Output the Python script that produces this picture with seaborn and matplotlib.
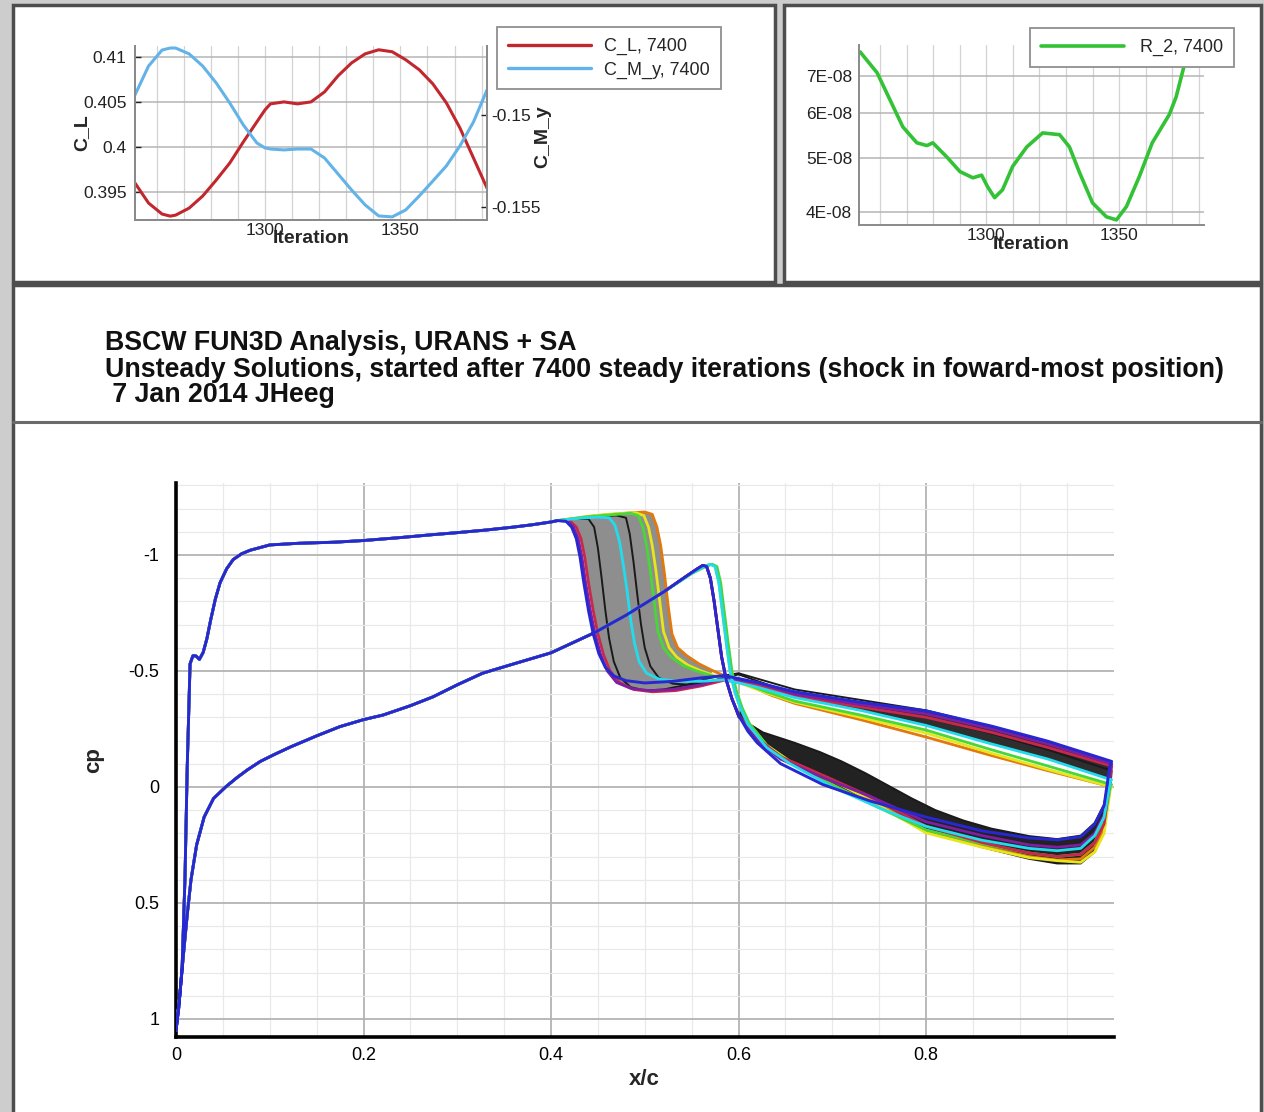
import numpy as np
import matplotlib
matplotlib.use("Agg")
import matplotlib.pyplot as plt
import seaborn as sns
from matplotlib.patches import Rectangle
from matplotlib.lines import Line2D
from matplotlib.ticker import FixedLocator, NullLocator, NullFormatter

# ------------------------------------------------------------------ data
# top-left panel: force coefficients vs iteration
iter_cl = [1252, 1257, 1262, 1265, 1267, 1272, 1277, 1282, 1287, 1292, 1297, 1300, 1302, 1307,
           1312, 1317, 1322, 1327, 1332, 1337, 1342, 1347, 1352, 1357, 1362, 1367, 1372, 1377, 1382]
cl_vals = [0.39600, 0.39378, 0.39256, 0.39233, 0.39244, 0.39322, 0.39456, 0.39633, 0.39822, 0.40056,
           0.40278, 0.40411, 0.40478, 0.40500, 0.40478, 0.40500, 0.40611, 0.40789, 0.40933, 0.41033,
           0.41078, 0.41056, 0.40967, 0.40856, 0.40700, 0.40489, 0.40211, 0.39878, 0.39544]
cmy_vals = [-0.14891, -0.14734, -0.14647, -0.14636, -0.14636, -0.14668, -0.14734, -0.14826, -0.14935,
            -0.15054, -0.15152, -0.15179, -0.15185, -0.15190, -0.15185, -0.15185, -0.15234, -0.15321,
            -0.15408, -0.15489, -0.15549, -0.15554, -0.15516, -0.15440, -0.15359, -0.15277, -0.15168,
            -0.15038, -0.14864]
cl_ticks = [0.395, 0.4, 0.405, 0.41]
cl_ticklabels = ["0.395", "0.4", "0.405", "0.41"]
cmy_ticks = [-0.155, -0.15]
cmy_ticklabels = ["-0.155", "-0.15"]
iter_ticks = [1300, 1350]
iter_ticklabels = ["1300", "1350"]

# top-right panel: residual
iter_r2 = [1252.4, 1258.8, 1263.7, 1268.5, 1273.8, 1277.6, 1279.8, 1285.1, 1290.0, 1294.9, 1298.2,
           1300.5, 1303.1, 1306.1, 1309.9, 1315.2, 1321.2, 1327.6, 1331.3, 1335.1, 1340.0, 1345.2,
           1349.0, 1352.8, 1357.6, 1362.5, 1368.9, 1371.5, 1374.6, 1376.5]
r2_vals = [7.72e-8, 7.09e-8, 6.34e-8, 5.68e-8, 5.32e-8, 5.26e-8, 5.32e-8, 5.02e-8, 4.73e-8, 4.61e-8,
           4.66e-8, 4.44e-8, 4.25e-8, 4.39e-8, 4.83e-8, 5.23e-8, 5.54e-8, 5.50e-8, 5.23e-8, 4.71e-8,
           4.16e-8, 3.93e-8, 3.88e-8, 4.10e-8, 4.63e-8, 5.32e-8, 5.97e-8, 6.42e-8, 7.32e-8, 7.80e-8]
r2_ticks = [4e-8, 5e-8, 6e-8, 7e-8]
r2_ticklabels = ["4E-08", "5E-08", "6E-08", "7E-08"]

# main panel: surface pressure coefficient, common leading-edge part
xu_common = [0.0, 0.003, 0.0065, 0.0096, 0.012, 0.015, 0.018, 0.021, 0.025, 0.029, 0.033, 0.037,
             0.042, 0.047, 0.054, 0.061, 0.07, 0.079, 0.1, 0.13, 0.17, 0.2, 0.24, 0.27, 0.3, 0.33,
             0.36, 0.38, 0.4, 0.407]
cpu_common = [1.05, 0.95, 0.78, 0.39, -0.09, -0.53, -0.565, -0.565, -0.55, -0.58, -0.64, -0.72,
              -0.81, -0.88, -0.94, -0.98, -1.005, -1.02, -1.043, -1.05, -1.055, -1.062, -1.075,
              -1.086, -1.096, -1.107, -1.12, -1.13, -1.142, -1.148]
xl_common = [0.0, 0.004, 0.008, 0.012, 0.016, 0.022, 0.03, 0.04, 0.053, 0.065, 0.076, 0.09, 0.105,
             0.122, 0.15, 0.175, 0.2, 0.221, 0.25, 0.274, 0.3, 0.327, 0.36, 0.4]
cpl_common = [1.05, 0.9, 0.72, 0.55, 0.4, 0.25, 0.13, 0.05, 0.0, -0.04, -0.073, -0.11, -0.14,
              -0.172, -0.22, -0.26, -0.29, -0.31, -0.35, -0.388, -0.44, -0.49, -0.53, -0.578]

# aft parts, one per unsteady snapshot (upper surface / lower surface)
lo_x_a = [0.446, 0.48, 0.52, 0.545, 0.556, 0.562, 0.566, 0.57, 0.574, 0.578, 0.582, 0.587, 0.593,
          0.6, 0.61, 0.62, 0.645, 0.69, 0.74, 0.8, 0.86, 0.91, 0.94, 0.965, 0.98, 0.99, 0.996]
lo_x_b = [0.446, 0.48, 0.52, 0.55, 0.563, 0.57, 0.575, 0.579, 0.583, 0.587, 0.591, 0.596, 0.602,
          0.61, 0.62, 0.63, 0.655, 0.7, 0.75, 0.8, 0.86, 0.91, 0.94, 0.965, 0.98, 0.99, 0.997]
lo_x_c = [0.446, 0.48, 0.52, 0.55, 0.565, 0.572, 0.577, 0.581, 0.585, 0.589, 0.593, 0.598, 0.604,
          0.612, 0.622, 0.632, 0.657, 0.7, 0.75, 0.8, 0.86, 0.91, 0.94, 0.965, 0.98, 0.99, 0.997]

blue_up_x = [0.416, 0.422, 0.427, 0.431, 0.435, 0.44, 0.445, 0.451, 0.458, 0.467, 0.48, 0.5, 0.53,
             0.56, 0.585, 0.62, 0.66, 0.73, 0.8, 0.87, 0.93, 0.998]
blue_up_cp = [-1.145, -1.12, -1.07, -0.99, -0.88, -0.76, -0.66, -0.575, -0.515, -0.478, -0.458,
              -0.448, -0.455, -0.47, -0.48, -0.45, -0.41, -0.365, -0.328, -0.262, -0.197, -0.11]
blue_lo_cp = [-0.664, -0.74, -0.84, -0.91, -0.94, -0.955, -0.95, -0.9, -0.8, -0.68, -0.56, -0.46,
              -0.38, -0.31, -0.24, -0.19, -0.1, -0.01, 0.06, 0.13, 0.19, 0.22, 0.228, 0.215, 0.16,
              0.08, -0.09]

purple_up_x = [0.418, 0.424, 0.429, 0.433, 0.437, 0.442, 0.447, 0.453, 0.46, 0.47, 0.485, 0.505,
               0.53, 0.56, 0.585, 0.62, 0.66, 0.73, 0.8, 0.87, 0.93, 0.998]
purple_up_cp = [-1.145, -1.12, -1.07, -0.99, -0.88, -0.76, -0.66, -0.57, -0.5, -0.45, -0.425,
                -0.415, -0.42, -0.44, -0.47, -0.45, -0.4, -0.355, -0.315, -0.25, -0.185, -0.1]
purple_lo_cp = [-0.664, -0.74, -0.84, -0.91, -0.94, -0.955, -0.95, -0.9, -0.8, -0.68, -0.56, -0.46,
                -0.38, -0.31, -0.25, -0.2, -0.12, -0.04, 0.04, 0.15, 0.21, 0.25, 0.26, 0.25, 0.2,
                0.12, -0.05]

red_up_x = [0.42, 0.427, 0.432, 0.436, 0.44, 0.445, 0.45, 0.456, 0.463, 0.473, 0.488, 0.508, 0.533,
            0.56, 0.585, 0.62, 0.66, 0.73, 0.8, 0.87, 0.93, 0.998]
red_up_cp = [-1.148, -1.12, -1.07, -0.99, -0.88, -0.76, -0.66, -0.57, -0.5, -0.45, -0.42, -0.41,
             -0.415, -0.435, -0.46, -0.44, -0.39, -0.345, -0.3, -0.235, -0.17, -0.09]
red_lo_cp = [-0.664, -0.74, -0.84, -0.91, -0.94, -0.955, -0.95, -0.9, -0.8, -0.68, -0.56, -0.46,
             -0.38, -0.31, -0.26, -0.21, -0.13, -0.05, 0.04, 0.17, 0.24, 0.285, 0.3, 0.29, 0.24,
             0.16, -0.02]

cyan_up_x = [0.43, 0.45, 0.462, 0.468, 0.473, 0.477, 0.481, 0.485, 0.489, 0.494, 0.502, 0.515,
             0.535, 0.56, 0.585, 0.62, 0.66, 0.73, 0.8, 0.87, 0.93, 0.998]
cyan_up_cp = [-1.158, -1.163, -1.16, -1.13, -1.06, -0.96, -0.85, -0.72, -0.62, -0.54, -0.49,
              -0.465, -0.455, -0.455, -0.462, -0.43, -0.385, -0.33, -0.265, -0.185, -0.12, -0.03]
cyan_lo_cp = [-0.664, -0.74, -0.84, -0.92, -0.95, -0.96, -0.95, -0.88, -0.75, -0.62, -0.5, -0.41,
              -0.34, -0.27, -0.22, -0.17, -0.1, 0.0, 0.09, 0.17, 0.23, 0.265, 0.275, 0.265, 0.21,
              0.13, -0.03]

green_up_x = [0.44, 0.47, 0.485, 0.493, 0.498, 0.502, 0.506, 0.51, 0.514, 0.52, 0.528, 0.54, 0.555,
              0.575, 0.6, 0.63, 0.66, 0.73, 0.8, 0.87, 0.93, 0.998]
green_up_cp = [-1.165, -1.175, -1.18, -1.17, -1.12, -1.04, -0.93, -0.8, -0.67, -0.6, -0.56, -0.525,
               -0.5, -0.475, -0.455, -0.41, -0.37, -0.31, -0.245, -0.16, -0.09, -0.01]
green_lo_cp = [-0.664, -0.74, -0.84, -0.92, -0.95, -0.96, -0.95, -0.88, -0.75, -0.62, -0.5, -0.41,
               -0.34, -0.27, -0.22, -0.17, -0.1, -0.01, 0.09, 0.185, 0.245, 0.285, 0.3, 0.29, 0.24,
               0.15, -0.01]

yellow_up_x = [0.44, 0.47, 0.49, 0.499, 0.504, 0.508, 0.512, 0.516, 0.52, 0.526, 0.534, 0.546, 0.56,
               0.578, 0.6, 0.63, 0.66, 0.73, 0.8, 0.87, 0.93, 0.998]
yellow_up_cp = [-1.167, -1.178, -1.182, -1.17, -1.12, -1.04, -0.93, -0.8, -0.67, -0.6, -0.56,
                -0.525, -0.5, -0.475, -0.45, -0.405, -0.365, -0.3, -0.232, -0.145, -0.075, 0.0]
yellow_lo_cp = [-0.664, -0.74, -0.84, -0.92, -0.95, -0.96, -0.95, -0.88, -0.75, -0.62, -0.5, -0.41,
                -0.34, -0.28, -0.23, -0.18, -0.11, -0.03, 0.08, 0.198, 0.26, 0.305, 0.318, 0.325,
                0.28, 0.2, 0.0]

orange_up_x = [0.45, 0.48, 0.5, 0.508, 0.513, 0.517, 0.521, 0.525, 0.529, 0.535, 0.545, 0.558,
               0.573, 0.59, 0.61, 0.635, 0.66, 0.73, 0.8, 0.87, 0.93, 0.998]
orange_up_cp = [-1.17, -1.18, -1.185, -1.175, -1.12, -1.04, -0.92, -0.78, -0.66, -0.6, -0.565,
                -0.53, -0.5, -0.47, -0.44, -0.395, -0.36, -0.29, -0.215, -0.135, -0.07, 0.0]
orange_lo_cp = [-0.664, -0.74, -0.84, -0.91, -0.94, -0.955, -0.95, -0.9, -0.8, -0.68, -0.56, -0.46,
                -0.38, -0.31, -0.25, -0.2, -0.12, -0.045, 0.05, 0.19, 0.255, 0.3, 0.315, 0.31,
                0.26, 0.18, 0.0]

black1_up_x = [0.425, 0.44, 0.446, 0.45, 0.454, 0.458, 0.462, 0.467, 0.474, 0.485, 0.5, 0.52, 0.545,
               0.57, 0.6, 0.66, 0.73, 0.8, 0.87, 0.93, 0.998]
black1_up_cp = [-1.155, -1.155, -1.12, -1.03, -0.9, -0.76, -0.64, -0.54, -0.47, -0.43, -0.415,
                -0.42, -0.44, -0.47, -0.49, -0.42, -0.375, -0.33, -0.26, -0.19, -0.1]
black1_lo_x = [0.446, 0.48, 0.52, 0.545, 0.556, 0.562, 0.566, 0.57, 0.574, 0.578, 0.582, 0.587,
               0.593, 0.6, 0.626, 0.66, 0.687, 0.71, 0.735, 0.76, 0.785, 0.81, 0.84, 0.87, 0.91,
               0.94, 0.965, 0.98, 0.99, 0.997]
black1_lo_cp = [-0.664, -0.74, -0.84, -0.91, -0.94, -0.955, -0.95, -0.9, -0.8, -0.68, -0.56, -0.46,
                -0.38, -0.3, -0.235, -0.19, -0.15, -0.11, -0.06, -0.005, 0.05, 0.1, 0.145, 0.18,
                0.212, 0.225, 0.21, 0.155, 0.075, -0.09]
black2_up_x = [0.44, 0.47, 0.48, 0.484, 0.488, 0.492, 0.496, 0.5, 0.506, 0.515, 0.53, 0.55, 0.575,
               0.6, 0.66, 0.73, 0.8, 0.87, 0.93, 0.998]
black2_up_cp = [-1.165, -1.17, -1.16, -1.09, -0.97, -0.83, -0.7, -0.6, -0.52, -0.47, -0.445, -0.44,
                -0.46, -0.485, -0.4, -0.35, -0.3, -0.23, -0.16, -0.07]
black2_lo_cp = [-0.664, -0.74, -0.84, -0.92, -0.95, -0.96, -0.95, -0.88, -0.75, -0.62, -0.5, -0.41,
                -0.34, -0.28, -0.23, -0.18, -0.11, -0.02, 0.08, 0.19, 0.26, 0.31, 0.33, 0.33, 0.28,
                0.19, -0.01]

cp_xticks = [0.0, 0.2, 0.4, 0.6, 0.8]
cp_xticklabels = ["0", "0.2", "0.4", "0.6", "0.8"]
cp_yticks = [-1.0, -0.5, 0.0, 0.5, 1.0]
cp_yticklabels = ["-1", "-0.5", "0", "0.5", "1"]

title_lines = ["BSCW FUN3D Analysis, URANS + SA",
               "Unsteady Solutions, started after 7400 steady iterations (shock in foward-most position)",
               " 7 Jan 2014 JHeeg"]

# ------------------------------------------------------------------ style
sns.set_theme(style="white")
plt.rcParams["font.family"] = ["Liberation Sans", "DejaVu Sans"]

W, H = 1264, 1112
fig = plt.figure(figsize=(W / 100, H / 100), dpi=100)
fig.patch.set_facecolor("#cdcdcd")


def fx(px):
    return px / W


def fy(py):
    return 1 - py / H


def box(l, t, r, b, lw=2.5):
    fig.patches.append(Rectangle((fx(l), fy(b)), fx(r) - fx(l), fy(t) - fy(b),
                                 transform=fig.transFigure, facecolor="white",
                                 edgecolor="#4d4d4d", lw=lw, zorder=-5))


box(13, 5, 775, 282)
box(784, 5, 1261, 282)
box(13, 285, 1261, 1125)
fig.add_artist(Line2D([fx(13), fx(1261)], [fy(422), fy(422)], transform=fig.transFigure,
                      color="#6a6a6a", lw=2.2, zorder=-4))

for i, (txt, py) in enumerate(zip(title_lines, [343, 370, 395])):
    fig.text(fx(105), fy(py), txt, fontsize=19.3, fontweight="bold", va="center", ha="left",
             color="#111111")

# ------------------------------------------------------------------ panel 1
def axes_px(l, t, r, b):
    return fig.add_axes([fx(l), fy(b), fx(r) - fx(l), fy(t) - fy(b)])


ax1 = axes_px(135, 46, 487, 220)
ax1b = ax1.twinx()
red_c, lblue_c = "#c1272d", "#63b3e8"
sns.lineplot(x=iter_cl, y=cl_vals, ax=ax1, color=red_c, lw=2.2, sort=False, estimator=None)
sns.lineplot(x=iter_cl, y=cmy_vals, ax=ax1b, color=lblue_c, lw=2.2, sort=False, estimator=None)
ax1.set_xlim(1252, 1382)
ax1.set_ylim(0.3919, 0.4112)
ax1b.set_ylim(-0.15571, -0.14625)
ax1.set_yticks(cl_ticks, cl_ticklabels)
ax1b.set_yticks(cmy_ticks, cmy_ticklabels)
ax1.set_xticks(iter_ticks, iter_ticklabels)
ax1.xaxis.set_minor_locator(FixedLocator(list(range(1260, 1382, 10))))
ax1.grid(True, which="major", axis="y", color="#b5b5b5", lw=1.1)
ax1.grid(True, which="both", axis="x", color="#d3d3d3", lw=0.9)
ax1b.grid(False)
for a in (ax1, ax1b):
    a.spines["top"].set_visible(False)
    for s in ("left", "right", "bottom"):
        a.spines[s].set_color("#8a8a8a")
        a.spines[s].set_linewidth(1.4)
    a.tick_params(axis="both", which="both", direction="in", labelsize=12.5, colors="#222222",
                  length=4, width=1)
    a.set_facecolor("none")
ax1.tick_params(axis="x", which="minor", length=0)
ax1.tick_params(axis="y", pad=6)
ax1.tick_params(axis="x", pad=2)
ax1b.tick_params(axis="y", pad=3, right=True)
ax1.set_xlabel("Iteration", fontsize=14, fontweight="bold")
ax1.xaxis.set_label_coords(0.5, -0.06)
ax1.set_ylabel("C_L", fontsize=14, fontweight="bold")
ax1.yaxis.set_label_coords(-0.128, 0.5)
ax1b.set_ylabel("C_M_y", fontsize=14, fontweight="bold")
ax1b.yaxis.set_label_coords(1.135, 0.48)

h1 = [Line2D([], [], color=red_c, lw=2.4), Line2D([], [], color=lblue_c, lw=2.4)]
leg1 = fig.legend(h1, ["C_L, 7400", "C_M_y, 7400"], loc="upper left",
                  bbox_to_anchor=(fx(497), fy(27)), fontsize=13, handlelength=4.6,
                  handletextpad=0.75, borderpad=0.6, labelspacing=0.35, frameon=True,
                  fancybox=False, framealpha=1, borderaxespad=0)
leg1.get_frame().set_edgecolor("#8f8f8f")
leg1.get_frame().set_linewidth(1.3)

# ------------------------------------------------------------------ panel 2
ax2 = axes_px(859, 45, 1204, 225)
green_c = "#33c235"
sns.lineplot(x=iter_r2, y=r2_vals, ax=ax2, color=green_c, lw=2.6, sort=False, estimator=None)
ax2.set_yscale("log")
ax2.set_xlim(1252, 1382)
ax2.set_ylim(3.80e-8, 7.94e-8)
ax2.yaxis.set_minor_locator(NullLocator())
ax2.yaxis.set_minor_formatter(NullFormatter())
ax2.set_yticks(r2_ticks, r2_ticklabels)
ax2.set_xticks(iter_ticks, iter_ticklabels)
ax2.xaxis.set_minor_locator(FixedLocator(list(range(1260, 1382, 10))))
ax2.grid(True, which="major", axis="y", color="#b5b5b5", lw=1.1)
ax2.grid(True, which="both", axis="x", color="#d3d3d3", lw=0.9)
ax2.spines["top"].set_visible(False)
ax2.spines["right"].set_visible(False)
for s in ("left", "bottom"):
    ax2.spines[s].set_color("#8a8a8a")
    ax2.spines[s].set_linewidth(1.4)
ax2.tick_params(axis="both", which="both", direction="in", labelsize=12.5, colors="#222222",
                length=4, width=1)
ax2.tick_params(axis="x", which="minor", length=0)
ax2.tick_params(axis="y", pad=5)
ax2.tick_params(axis="x", pad=2)
ax2.set_facecolor("none")
ax2.set_xlabel("Iteration", fontsize=14, fontweight="bold")
ax2.xaxis.set_label_coords(0.5, -0.06)
ax2.set_ylabel("")
leg2 = fig.legend([Line2D([], [], color=green_c, lw=2.6)], ["R_2, 7400"], loc="upper left",
                  bbox_to_anchor=(fx(1030), fy(28)), fontsize=13, handlelength=4.6,
                  handletextpad=0.9, borderpad=0.6, frameon=True, fancybox=False,
                  framealpha=1, borderaxespad=0)
leg2.get_frame().set_edgecolor("#8f8f8f")
leg2.get_frame().set_linewidth(1.3)

# ------------------------------------------------------------------ main cp panel
ax = axes_px(176, 483, 1113.5, 1037)
ax.set_facecolor("none")


def loop(up_x, up_cp, lo_x, lo_cp):
    x = np.concatenate([xu_common, up_x, np.array(lo_x)[::-1], np.array(xl_common)[::-1]])
    y = np.concatenate([cpu_common, up_cp, np.array(lo_cp)[::-1], np.array(cpl_common)[::-1]])
    return x, y


# gray/black bands formed by the many intermediate time steps
band_x = np.concatenate([[xu_common[-1]], red_up_x[:14], orange_up_x[:13][::-1]])
band_y = np.concatenate([[cpu_common[-1]], red_up_cp[:14], orange_up_cp[:13][::-1]])
ax.fill(band_x, band_y, color="#8e8e8e", lw=0, zorder=2)
up_band_x = np.concatenate([blue_up_x[14:], cyan_up_x[14:][::-1]])
up_band_y = np.concatenate([blue_up_cp[14:], cyan_up_cp[14:][::-1]])
ax.fill(up_band_x, up_band_y, color="#2e2e2e", lw=0, zorder=2)
lo_band_x = np.concatenate([black1_lo_x[13:], lo_x_b[12:][::-1]])
lo_band_y = np.concatenate([black1_lo_cp[13:], black2_lo_cp[12:][::-1]])
ax.fill(lo_band_x, lo_band_y, color="#222222", lw=0, zorder=2)

curves = [
    (black1_up_x, black1_up_cp, black1_lo_x, black1_lo_cp, "#1a1a1a", 1.4),
    (black2_up_x, black2_up_cp, lo_x_b, black2_lo_cp, "#1a1a1a", 1.4),
    (orange_up_x, orange_up_cp, lo_x_a, orange_lo_cp, "#e2780e", 2.0),
    (yellow_up_x, yellow_up_cp, lo_x_b, yellow_lo_cp, "#e6e61a", 2.0),
    (green_up_x, green_up_cp, lo_x_c, green_lo_cp, "#49d63a", 2.0),
    (red_up_x, red_up_cp, lo_x_a, red_lo_cp, "#c8284a", 2.0),
    (purple_up_x, purple_up_cp, lo_x_a, purple_lo_cp, "#7d1fa0", 2.0),
    (cyan_up_x, cyan_up_cp, lo_x_b, cyan_lo_cp, "#22dcee", 2.0),
    (blue_up_x, blue_up_cp, lo_x_a, blue_lo_cp, "#2828d2", 2.1),
]
for k, (ux, ucp, lx, lcp, col, lw) in enumerate(curves):
    xx, yy = loop(ux, ucp, lx, lcp)
    sns.lineplot(x=xx, y=yy, ax=ax, color=col, lw=lw, sort=False, estimator=None, zorder=3 + k)

ax.set_xlim(0, 1.0)
ax.set_ylim(1.078, -1.31)
ax.set_xticks(cp_xticks, cp_xticklabels)
ax.set_yticks(cp_yticks, cp_yticklabels)
ax.xaxis.set_minor_locator(FixedLocator([0.05, 0.1, 0.15, 0.25, 0.3, 0.35, 0.45, 0.5, 0.55, 0.65,
                                         0.7, 0.75, 0.85, 0.9, 0.95]))
ax.yaxis.set_minor_locator(FixedLocator([-1.3, -1.2, -1.1, -0.9, -0.8, -0.7, -0.6, -0.4, -0.3, -0.2,
                                         -0.1, 0.1, 0.2, 0.3, 0.4, 0.6, 0.7, 0.8, 0.9]))
ax.grid(True, which="major", color="#b3b3b3", lw=1.3)
ax.grid(True, which="minor", color="#e9e9e9", lw=0.9)
ax.spines["top"].set_visible(False)
ax.spines["right"].set_visible(False)
for s in ("left", "bottom"):
    ax.spines[s].set_color("black")
    ax.spines[s].set_linewidth(2.6)
ax.tick_params(axis="both", which="major", direction="in", length=11, width=2.4, labelsize=13,
               colors="black")
ax.tick_params(axis="both", which="minor", direction="in", length=5, width=1.2, colors="black")
ax.tick_params(axis="y", pad=12)
ax.tick_params(axis="x", pad=7)
ax.set_xlabel("x/c", fontsize=16, fontweight="bold")
ax.xaxis.set_label_coords(0.5, -0.058)
ax.set_ylabel("cp", fontsize=16, fontweight="bold")
ax.yaxis.set_label_coords(-0.077, 0.5)
ax.set_axisbelow(True)

fig.savefig("out.png", dpi=100, facecolor=fig.get_facecolor())
